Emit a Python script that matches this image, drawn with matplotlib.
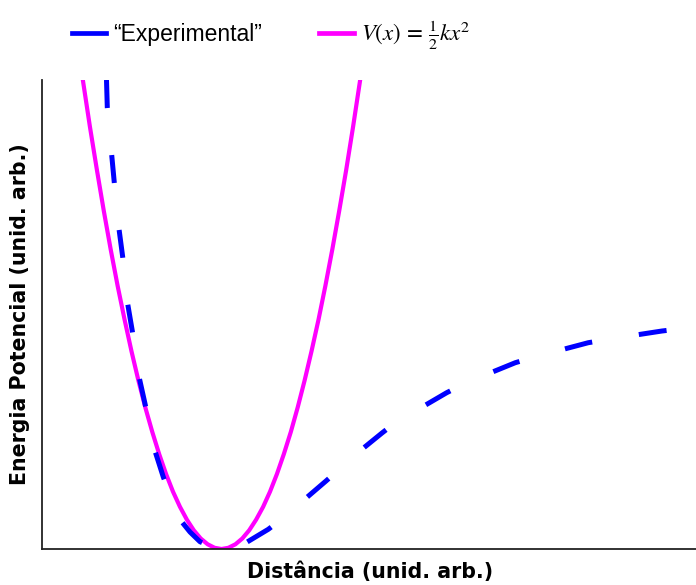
import matplotlib
matplotlib.use("Agg")
import matplotlib.pyplot as plt
from matplotlib.lines import Line2D

plt.rcParams['mathtext.fontset'] = 'stix'
plt.rcParams['lines.scale_dashes'] = False

# Harmonic approximation V(x) = 1/2 k x^2 (arbitrary units)
harm_x = [0.41, 0.479, 0.549, 0.618, 0.687, 0.756, 0.826, 0.895, 0.964, 1.033,
          1.103, 1.172, 1.241, 1.310, 1.380, 1.449, 1.518, 1.587, 1.657, 1.726,
          1.795, 1.864, 1.934, 2.003, 2.072, 2.141, 2.211, 2.280, 2.349, 2.418,
          2.488, 2.557, 2.626, 2.695, 2.765, 2.834, 2.903, 2.972, 3.042, 3.111, 3.18]
harm_y = [4.680, 4.224, 3.791, 3.381, 2.995, 2.633, 2.293, 1.977, 1.685, 1.416,
          1.170, 0.948, 0.749, 0.573, 0.421, 0.293, 0.187, 0.105, 0.047, 0.012,
          0.000, 0.012, 0.047, 0.105, 0.187, 0.293, 0.421, 0.573, 0.749, 0.948,
          1.170, 1.416, 1.685, 1.977, 2.293, 2.633, 2.995, 3.381, 3.791, 4.224, 4.680]

exp_x = [0.645, 0.653, 0.697, 0.723, 0.770, 0.807, 0.857, 0.903, 0.973, 1.033,
         1.130, 1.213, 1.300, 1.397, 1.480, 1.580, 1.690, 1.800, 1.910, 2.030,
         2.263, 2.450, 2.630, 2.840, 3.010, 3.197, 3.400, 3.580, 3.807, 4.047,
         4.260, 4.473, 4.733, 4.960, 5.187, 5.463, 5.690, 5.920, 6.200, 6.540]
exp_y = [4.690, 4.413, 3.940, 3.663, 3.200, 2.920, 2.450, 2.180, 1.710, 1.440,
         0.980, 0.720, 0.490, 0.273, 0.170, 0.073, 0.025, 0.010, 0.020, 0.057,
         0.197, 0.340, 0.500, 0.680, 0.830, 0.995, 1.160, 1.300, 1.423, 1.563,
         1.670, 1.757, 1.863, 1.930, 1.990, 2.063, 2.100, 2.137, 2.180, 2.220]

labels = ['\u201cExperimental\u201d', r'$V(x)\,=\,\frac{1}{2}kx^2$']

fig = plt.figure(figsize=(6.96, 5.85), dpi=100)
ax = fig.add_axes([42/696, 1-549/585, 1-42/696, (549-80)/585])

ax.plot(exp_x, exp_y, color='#0000ff', lw=3.6, linestyle=(0, (20.2, 34.0)),
        dash_capstyle='butt', zorder=3)
ax.plot(harm_x, harm_y, color='#ff00ff', lw=3.0, zorder=2)

ax.set_xlim(0, 6.54)
ax.set_ylim(0, 4.69)
ax.set_xticks([])
ax.set_yticks([])
for s in ['top', 'right']:
    ax.spines[s].set_visible(False)
for s in ['left', 'bottom']:
    ax.spines[s].set_linewidth(1.3)
    ax.spines[s].set_color('#222222')

fig.text(20/696, 1-314/585, 'Energia Potencial (unid. arb.)', rotation=90,
         ha='center', va='center', fontsize=14.8, fontweight='bold', family='DejaVu Sans')
fig.text(370/696, 1-572/585, 'Distância (unid. arb.)', ha='center', va='center',
         fontsize=14.8, fontweight='bold', family='DejaVu Sans')

h1 = Line2D([], [], color='#0000ff', lw=3.4)
h2 = Line2D([], [], color='#ff00ff', lw=3.4)
fig.legend([h1, h2], labels, loc='center', bbox_to_anchor=(271/696, 1-35/585),
           ncol=2, frameon=False, prop={'family': 'Liberation Sans', 'size': 16.5},
           handlelength=1.5, handletextpad=0.3, columnspacing=2.5)

fig.savefig('out.png', dpi=100)
